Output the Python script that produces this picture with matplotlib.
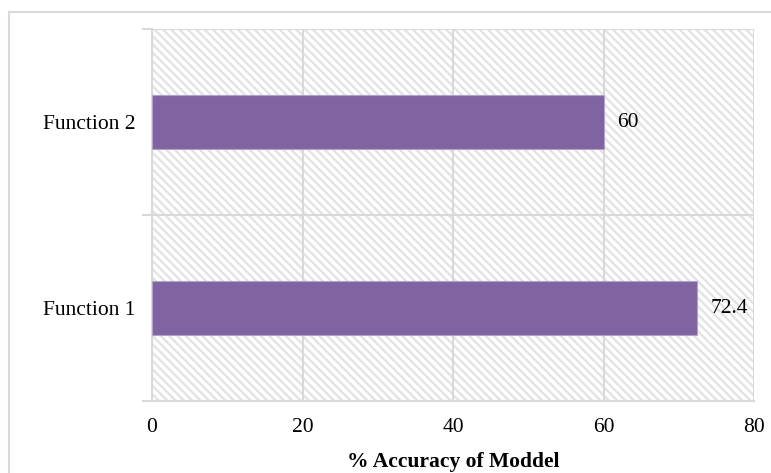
import matplotlib.pyplot as plt
from matplotlib.patches import Rectangle

functions = ['Function 1', 'Function 2']
accuracy = [72.4, 60]
x_ticks = [0, 20, 40, 60, 80]

plt.rcParams['font.family'] = ['Liberation Serif', 'DejaVu Serif']
plt.rcParams['hatch.color'] = '#E2E2E2'
plt.rcParams['hatch.linewidth'] = 1.6

grid_col = '#D9D9D9'
fs = 15.5
fig = plt.figure(figsize=(7.71, 4.73), dpi=100)
ax = fig.add_axes([152 / 771, 1 - 401 / 473, 602 / 771, 372 / 473])

# outer chart border
fig.patches.append(Rectangle((9 / 771, -0.1), 1.2, 1 - 12 / 473 + 0.1, transform=fig.transFigure,
                             fill=False, edgecolor=grid_col, linewidth=1.5, zorder=0))

# hatched plot background
ax.add_patch(Rectangle((0, 0), 1, 1, transform=ax.transAxes, facecolor='white',
                       edgecolor='#E2E2E2', hatch='\\' * 4, linewidth=0, zorder=0))

pos = range(len(functions))
bars = ax.barh(pos, accuracy, height=0.29, color='#8064A2', edgecolor='#B3A2C7',
               linewidth=0.8, zorder=3)
for p, v in zip(pos, accuracy):
    ax.text(v + 1.8, p, f'{v:g}', va='center', ha='left', fontsize=fs, zorder=4)

ax.set_xlim(0, 80)
ax.set_ylim(-0.5, 1.5)
ax.set_xticks(x_ticks)
ax.set_yticks(list(pos))
ax.set_yticklabels(functions)
ax.set_yticks([-0.5, 0.5, 1.5], minor=True)
ax.tick_params(axis='both', which='major', length=0, labelsize=fs)
ax.tick_params(axis='x', pad=12)
ax.tick_params(axis='y', pad=12)
ax.tick_params(axis='y', which='minor', length=7, color=grid_col, width=1.5)

ax.grid(axis='x', color=grid_col, linewidth=1.5, zorder=1)
ax.grid(axis='y', which='minor', color=grid_col, linewidth=1.5, zorder=1)
ax.set_axisbelow(True)
for s in ['top', 'right']:
    ax.spines[s].set_visible(False)
for s in ['left', 'bottom']:
    ax.spines[s].set_color(grid_col)
    ax.spines[s].set_linewidth(1.5)

ax.set_xlabel('% Accuracy of Moddel', fontsize=fs, fontweight='bold', labelpad=11)

fig.savefig('out.png', dpi=100)
